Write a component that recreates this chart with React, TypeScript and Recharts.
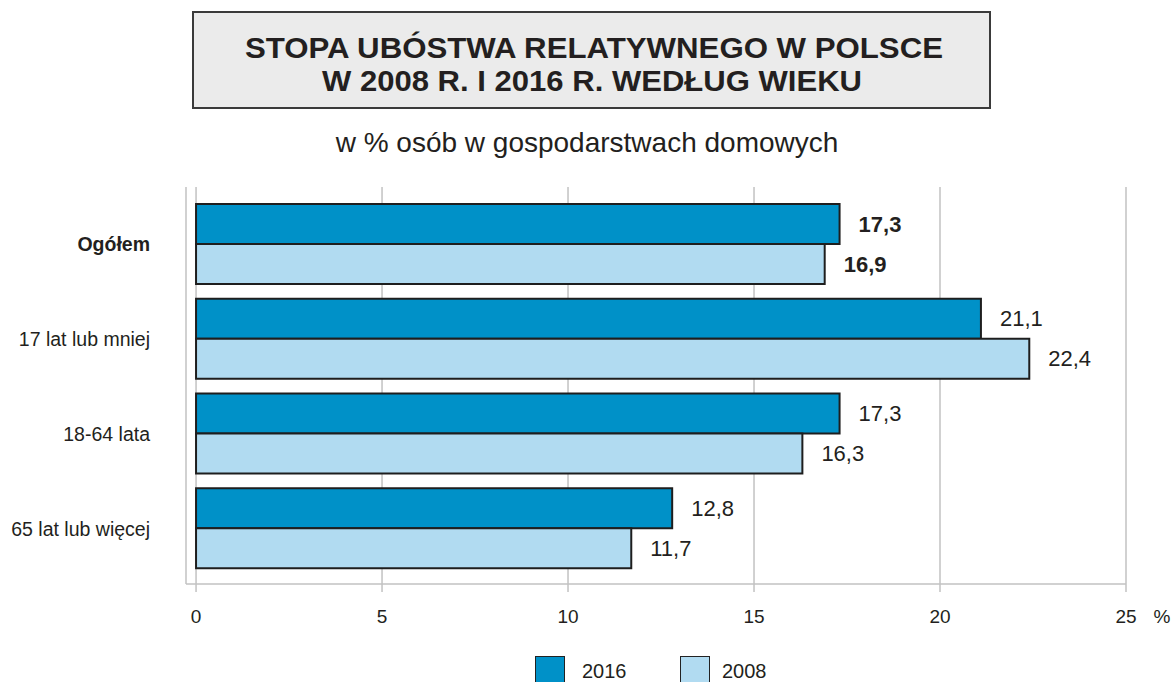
import React from "react";
import {
  BarChart,
  Bar,
  XAxis,
  YAxis,
  CartesianGrid,
  LabelList,
  Legend,
} from "recharts";

const categories = ["Ogółem", "17 lat lub mniej", "18-64 lata", "65 lat lub więcej"];
const values2016 = [17.3, 21.1, 17.3, 12.8];
const values2008 = [16.9, 22.4, 16.3, 11.7];
const xTicks = [0, 5, 10, 15, 20, 25];
const seriesNames = ["2016", "2008"];
const seriesColors = ["#0091c8", "#b1dbf1"];
const titleLines = ["STOPA UBÓSTWA RELATYWNEGO W POLSCE", "W 2008 R. I 2016 R. WEDŁUG WIEKU"];
const subtitle = "w % osób w gospodarstwach domowych";
const unitLabel = "%";

const data = categories.map((name, i) => ({
  name,
  v2016: values2016[i],
  v2008: values2008[i],
}));

const FONT = "'Liberation Sans', Arial, Helvetica, sans-serif";
const TEXT = "#231f20";
const GRID = "#c2c2c2";

const fmt = (v: number) => v.toFixed(1).replace(".", ",");

const makeValueLabel = (props: any) => {
  const { x, y, width, height, value, index } = props;
  return (
    <text
      x={Number(x) + Number(width) + 19}
      y={Number(y) + Number(height) / 2}
      dominantBaseline="central"
      textAnchor="start"
      fontFamily={FONT}
      fontSize={22}
      fontWeight={index === 0 ? "bold" : "normal"}
      fill={TEXT}
    >
      {fmt(Number(value))}
    </text>
  );
};

const CategoryTick = (props: any) => {
  const { x, y, payload, index } = props;
  return (
    <text
      x={x}
      y={y}
      textAnchor="end"
      dominantBaseline="central"
      fontFamily={FONT}
      fontSize={19.5}
      fontWeight={index === 0 ? "bold" : "normal"}
      fill={TEXT}
    >
      {payload.value}
    </text>
  );
};

const UnitLabel = (props: any) => {
  const { viewBox } = props;
  if (!viewBox) return null;
  return (
    <text
      x={viewBox.x + viewBox.width + 36}
      y={viewBox.y + 26}
      dy="0.71em"
      textAnchor="middle"
      fontFamily={FONT}
      fontSize={19}
      fill={TEXT}
    >
      {unitLabel}
    </text>
  );
};

const LegendContent = () => (
  <div style={{ position: "relative", height: 26, width: 1174 }}>
    {seriesNames.map((n, i) => (
      <div
        key={n}
        style={{
          position: "absolute",
          left: i === 0 ? 535 : 680,
          top: 0,
          display: "flex",
          alignItems: "flex-start",
        }}
      >
        <div
          style={{
            width: 28,
            height: 30,
            background: seriesColors[i],
            border: "1.5px solid #222",
          }}
        />
        <span
          style={{
            marginLeft: i === 0 ? 17 : 12,
            fontFamily: FONT,
            fontSize: 20,
            color: TEXT,
            lineHeight: "30px",
          }}
        >
          {n}
        </span>
      </div>
    ))}
  </div>
);

export default function App() {
  return (
    <div
      style={{
        position: "absolute",
        left: 0,
        top: 0,
        width: 1174,
        height: 682,
        background: "#fff",
        overflow: "hidden",
      }}
    >
      <svg
        width={1174}
        height={180}
        style={{ position: "absolute", left: 0, top: 0 }}
      >
        <rect x={193} y={12} width={797} height={96} fill="#ebebeb" stroke="#3a3a3a" strokeWidth={2} />
        <text
          x={594}
          y={58}
          textAnchor="middle"
          fontFamily={FONT}
          fontWeight="bold"
          fontSize={29}
          fill={TEXT}
          textLength={698}
          lengthAdjust="spacingAndGlyphs"
        >
          {titleLines[0]}
        </text>
        <text
          x={592}
          y={91}
          textAnchor="middle"
          fontFamily={FONT}
          fontWeight="bold"
          fontSize={29}
          fill={TEXT}
          textLength={540}
          lengthAdjust="spacingAndGlyphs"
        >
          {titleLines[1]}
        </text>
        <text
          x={587}
          y={152}
          textAnchor="middle"
          fontFamily={FONT}
          fontSize={28}
          fill={TEXT}
        >
          {subtitle}
        </text>
      </svg>
      <div style={{ position: "absolute", left: 0, top: 0 }}>
        <BarChart
          width={1174}
          height={682}
          data={data}
          layout="vertical"
          margin={{ top: 187, right: 48, bottom: 42, left: 0 }}
          barGap={0}
          barSize={40}
        >
          <CartesianGrid horizontal={false} stroke={GRID} strokeWidth={1.5} />
          <XAxis
            type="number"
            domain={[-0.27, 25]}
            ticks={xTicks}
            allowDataOverflow
            interval={0}
            axisLine={{ stroke: GRID, strokeWidth: 1.5 }}
            tickLine={{ stroke: GRID, strokeWidth: 1.5 }}
            tickSize={8}
            tickMargin={18}
            tick={{ fontFamily: FONT, fontSize: 19, fill: TEXT }}
            label={<UnitLabel />}
          />
          <YAxis
            type="category"
            dataKey="name"
            width={186}
            axisLine={false}
            tickLine={false}
            tickSize={0}
            tickMargin={36}
            padding={{ top: 10, bottom: 8 }}
            tick={<CategoryTick />}
            interval={0}
          />
          <Legend
            verticalAlign="bottom"
            content={<LegendContent />}
            wrapperStyle={{ position: "absolute", left: 0, top: 656, width: 1174, height: 26 }}
          />
          <Bar
            dataKey="v2016"
            name={seriesNames[0]}
            fill={seriesColors[0]}
            stroke="#1e1e1e"
            strokeWidth={2}
            isAnimationActive={false}
          >
            <LabelList dataKey="v2016" content={makeValueLabel} />
          </Bar>
          <Bar
            dataKey="v2008"
            name={seriesNames[1]}
            fill={seriesColors[1]}
            stroke="#1e1e1e"
            strokeWidth={2}
            isAnimationActive={false}
          >
            <LabelList dataKey="v2008" content={makeValueLabel} />
          </Bar>
        </BarChart>
      </div>
    </div>
  );
}
